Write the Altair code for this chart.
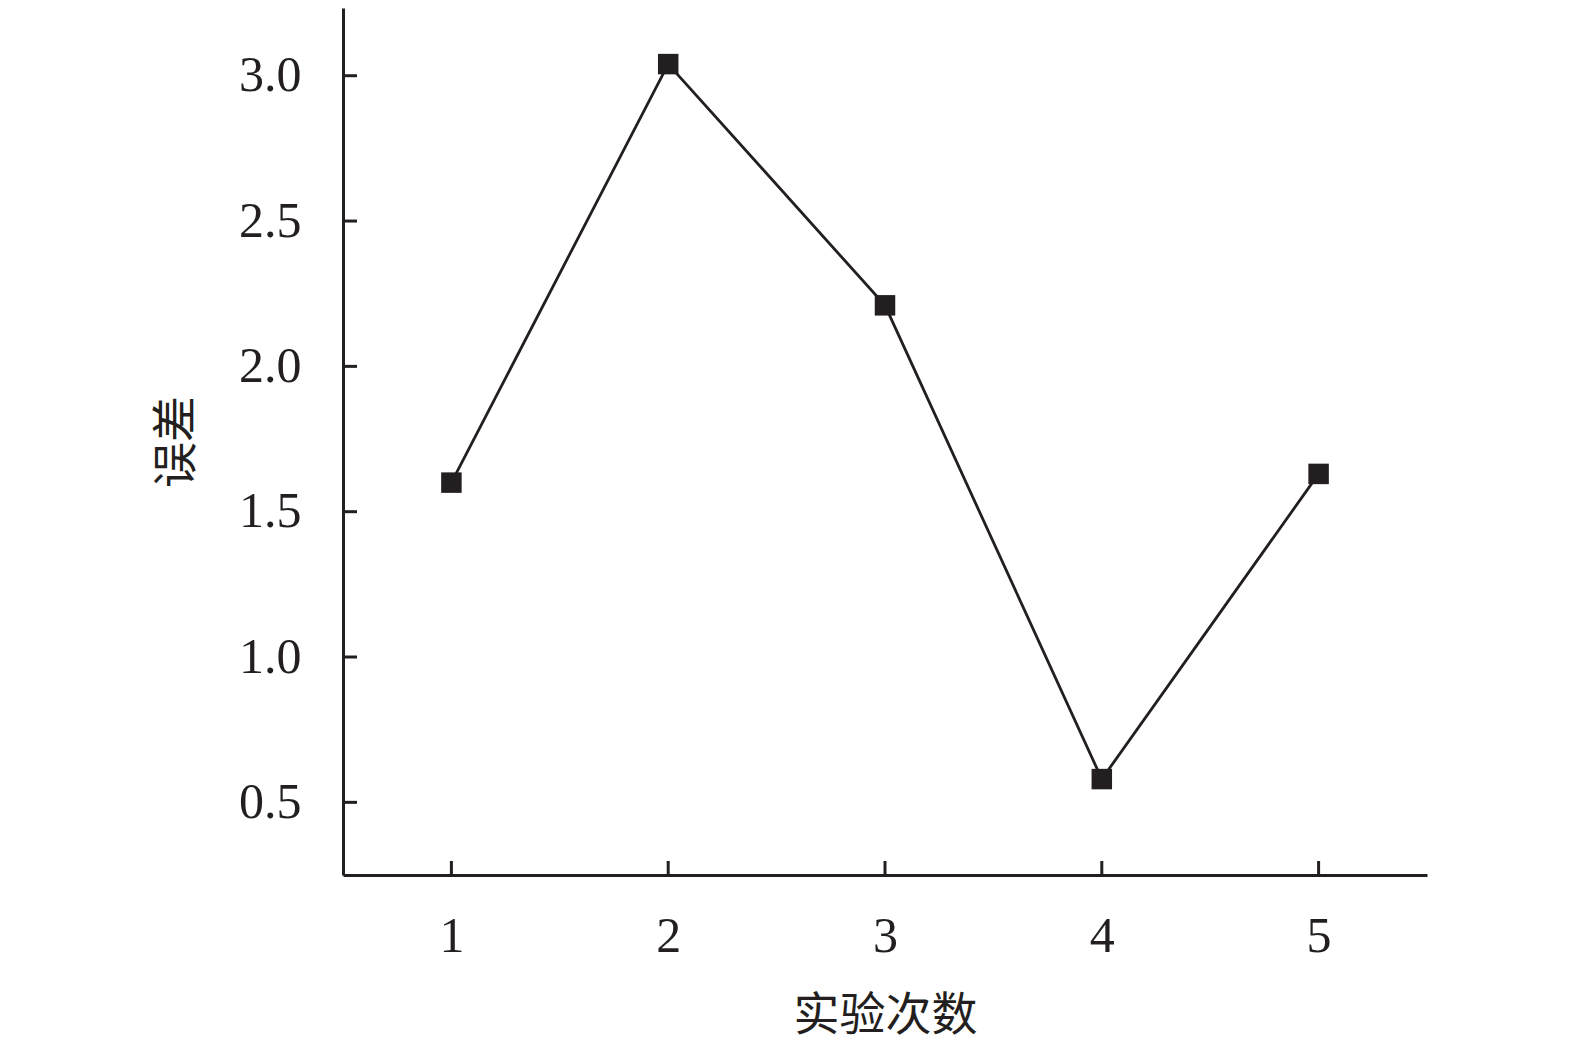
import altair as alt
import pandas as pd

runs = [1, 2, 3, 4, 5]
errors = [1.60, 3.04, 2.21, 0.58, 1.63]
y_ticks = [0.5, 1.0, 1.5, 2.0, 2.5, 3.0]
x_ticks = [1, 2, 3, 4, 5]

INK = "#231f20"
df = pd.DataFrame({"run": runs, "err": errors})
yt = pd.DataFrame({"v": y_ticks})
xt = pd.DataFrame({"v": x_ticks})

xs = alt.Scale(domain=[0.5, 5.5], nice=False, zero=False)
ys = alt.Scale(domain=[0.25, 3.233], nice=False, zero=False)

xaxis = alt.Axis(values=x_ticks, format="d", ticks=False, grid=False,
                 domainColor=INK, domainWidth=3, labelFont="Liberation Serif",
                 labelFontSize=50, labelColor=INK, labelPadding=36,
                 title="实验次数", titleFont="Noto Sans CJK SC", titleFontSize=46,
                 titleFontWeight="normal", titleColor=INK, titleY=140,
                 titleBaseline="middle")
yaxis = alt.Axis(values=y_ticks, format=".1f", ticks=False, grid=False,
                 domainColor=INK, domainWidth=3, labelFont="Liberation Serif",
                 labelFontSize=50, labelColor=INK, labelPadding=42,
                 title="误差", titleFont="Noto Sans CJK SC", titleFontSize=46,
                 titleFontWeight="normal", titleColor=INK, titleX=-167,
                 titleBaseline="middle", titleAngle=-90, titleAlign="center")

line = alt.Chart(df).mark_line(color=INK, strokeWidth=2.8).encode(
    x=alt.X("run:Q", scale=xs, axis=xaxis),
    y=alt.Y("err:Q", scale=ys, axis=yaxis),
)
pts = alt.Chart(df).mark_point(shape="square", filled=True, size=420,
                               color=INK, opacity=1).encode(
    x=alt.X("run:Q", scale=xs),
    y=alt.Y("err:Q", scale=ys),
)
ytick = alt.Chart(yt).mark_rule(color=INK, strokeWidth=3).encode(
    y=alt.Y("v:Q", scale=ys), x=alt.value(0), x2=alt.value(14))
xtick = alt.Chart(xt).mark_rule(color=INK, strokeWidth=3).encode(
    x=alt.X("v:Q", scale=xs), y=alt.value(867), y2=alt.value(853))

chart = alt.layer(line, ytick, xtick, pts).properties(
    width=1084, height=867,
    background="white",
    autosize=alt.AutoSizeParams(type="none"),
    padding={"left": 335, "top": 0, "right": 130, "bottom": 170},
).configure_view(stroke=None)

chart.save("out.html", embed_options={"renderer": "svg", "actions": False})
